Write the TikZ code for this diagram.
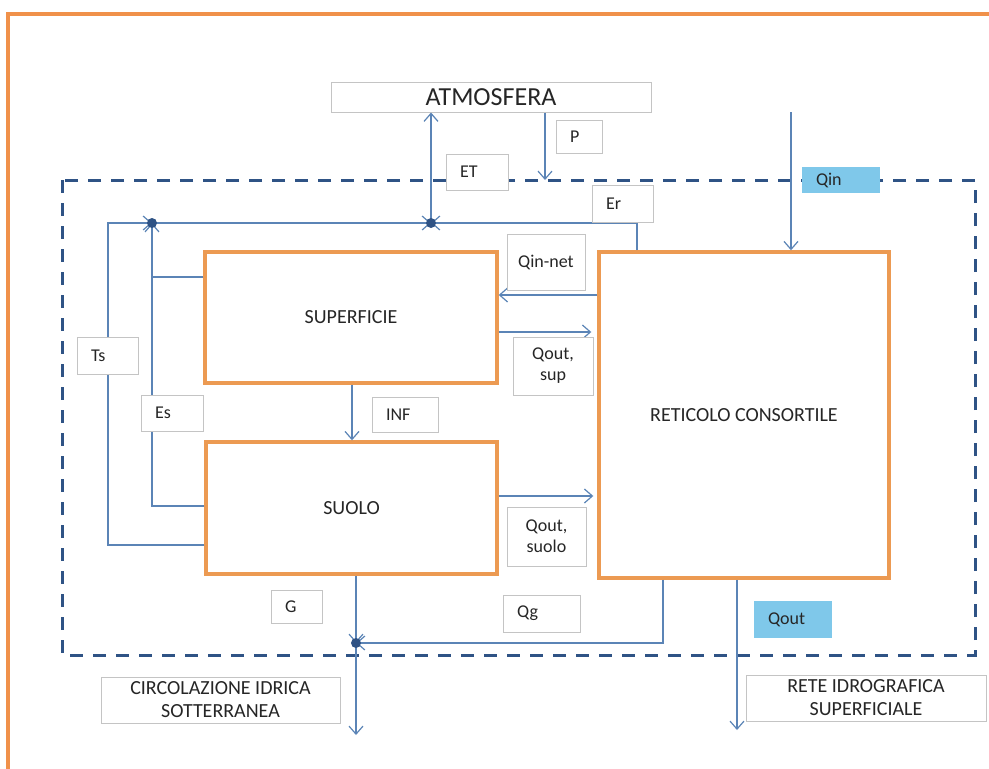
\documentclass[tikz,border=0pt]{standalone}
\usepackage{fontspec}
\setmainfont{Carlito}
\usetikzlibrary{arrows.meta,positioning,calc}
\definecolor{frameor}{HTML}{F0914A}
\definecolor{boxor}{HTML}{EC9A52}
\definecolor{flowblue}{HTML}{5B84B6}
\definecolor{dashblue}{HTML}{2F5385}
\definecolor{boxgray}{HTML}{C4C4C4}
\definecolor{fillblue}{HTML}{7FC8EA}
\definecolor{txt}{HTML}{262626}

\begin{document}
\begin{tikzpicture}[x=1pt,y=-1pt,
  compart/.style={draw=boxor, line width=3.4pt, fill=white, font=\fontsize{20}{23}\selectfont\color{txt}},
  fluxlbl/.style={draw=boxgray, line width=1pt, fill=white, font=\fontsize{18}{21}\selectfont\color{txt}, inner xsep=14pt, inner ysep=0pt, align=left},
  fluxtwo/.style={draw=boxgray, line width=1pt, fill=white, font=\fontsize{18}{21}\selectfont\color{txt}, inner sep=0pt, align=center},
  qbox/.style={fill=fillblue, font=\fontsize{18}{21}\selectfont\color{txt}, inner xsep=14pt, inner ysep=0pt, align=left},
  extbox/.style={draw=boxgray, line width=1pt, fill=white, font=\fontsize{20}{23}\selectfont\color{txt}, inner sep=0pt, align=center},
  flow/.style={draw=flowblue, line width=1.4pt, -{Straight Barb[length=8pt,width=14pt,line width=1.2pt]}},
  link/.style={draw=flowblue, line width=1.4pt},
  boundary/.style={draw=dashblue, line width=3pt, dash pattern=on 13pt off 10pt},
]
\useasboundingbox (0,0) rectangle (989,769);

% outer orange frame
\draw[frameor, line width=4pt] (8,769) -- (8,14) -- (989,14);

% system boundary
\draw[boundary] (62,180) rectangle (975,655);

% compartments
\node[compart, minimum width=292pt, minimum height=131pt] (sup) at (351,317.5) {SUPERFICIE};
\node[compart, minimum width=291pt, minimum height=132pt] (suolo) at (351.5,508) {SUOLO};
\node[compart, minimum width=290pt, minimum height=326pt] (ret) at (744,415) {RETICOLO CONSORTILE};

% outside the boundary
\node[extbox, minimum width=320pt, minimum height=30pt, font=\fontsize{26}{28}\selectfont\color{txt}] (atm) at (491,97) {ATMOSFERA};
\node[extbox, minimum width=239pt, minimum height=46pt] (sott) at (220.5,700) {CIRCOLAZIONE IDRICA\\SOTTERRANEA};
\node[extbox, minimum width=240pt, minimum height=46pt] (rete) at (866,698) {RETE IDROGRAFICA\\SUPERFICIALE};

% junctions and free ends
\coordinate (jA) at (152,223);
\coordinate (jB) at (431,223);
\coordinate (jC) at (356,643);
\coordinate (pEnd) at (545,180);
\coordinate (qinTop) at (791,112);
\coordinate (erKnee) at (637,223);
\coordinate (tsKnee) at (108,223);
\coordinate (qgKnee) at (663,643);
\coordinate (gwEnd) at (356,735);
\coordinate (qoEnd) at (737,730);

% fluxes
\draw[flow] (jB) -- (jB |- atm.south);
\draw[flow] (atm.south -| pEnd) -- (pEnd);
\draw[flow] (qinTop) -- (qinTop |- ret.north);
\draw[flow] (ret.north -| erKnee) -- (erKnee) -- (jB);
\draw[flow] (jA) -- (jB);
\draw[flow] (suolo.west |- 0,545) -| (tsKnee) -- (jA);
\draw[flow] (suolo.west |- 0,506) -| (jA);
\draw[link] (sup.west |- 0,277) -- (jA |- 0,277);
\draw[flow] (ret.west |- 0,295) -- (sup.east |- 0,295);
\draw[flow, shorten >=6pt] (sup.east |- 0,332) -- (ret.west |- 0,332);
\draw[flow] (sup.south -| 352,0) -- (suolo.north -| 352,0);
\draw[flow, shorten >=4pt] (suolo.east |- 0,496) -- (ret.west |- 0,496);
\draw[flow] (suolo.south -| jC) -- (jC);
\draw[flow] (ret.south -| qgKnee) -- (qgKnee) -- (jC);
\draw[flow] (jC) -- (gwEnd);
\draw[flow] (ret.south -| qoEnd) -- (qoEnd);
\foreach \j in {jA,jB,jC} \fill[dashblue] (\j) circle (5pt);

% flux labels
\node[fluxlbl, text width=18pt, minimum height=33pt] (p) at (579,136.5) {P};
\node[fluxlbl, text width=34pt, minimum height=36pt] (et) at (477,172) {ET};
\node[qbox, text width=50pt, minimum height=26pt] (qin) at (841,180) {Qin};
\node[fluxlbl, text width=33pt, minimum height=37pt] (er) at (622.5,203.5) {Er};
\node[fluxtwo, minimum width=78pt, minimum height=56pt] (qinnet) at (546,262) {Qin-net};
\node[fluxtwo, minimum width=80pt, minimum height=58pt] (qoutsup) at (553,366) {Qout,\\sup};
\node[fluxlbl, text width=33pt, minimum height=37pt] (ts) at (107.5,355.5) {Ts};
\node[fluxlbl, text width=34pt, minimum height=36pt] (es) at (172,413) {Es};
\node[fluxlbl, text width=38pt, minimum height=35pt] (inf) at (405,414.5) {INF};
\node[fluxtwo, minimum width=79pt, minimum height=59pt] (qoutsuolo) at (546.5,536.5) {Qout,\\suolo};
\node[fluxlbl, text width=23pt, minimum height=33pt] (g) at (296.5,606.5) {G};
\node[fluxlbl, text width=49pt, minimum height=37pt] (qg) at (541.5,613.5) {Qg};
\node[qbox, text width=50pt, minimum height=37pt] (qout) at (793,619.5) {Qout};
\end{tikzpicture}
\end{document}
